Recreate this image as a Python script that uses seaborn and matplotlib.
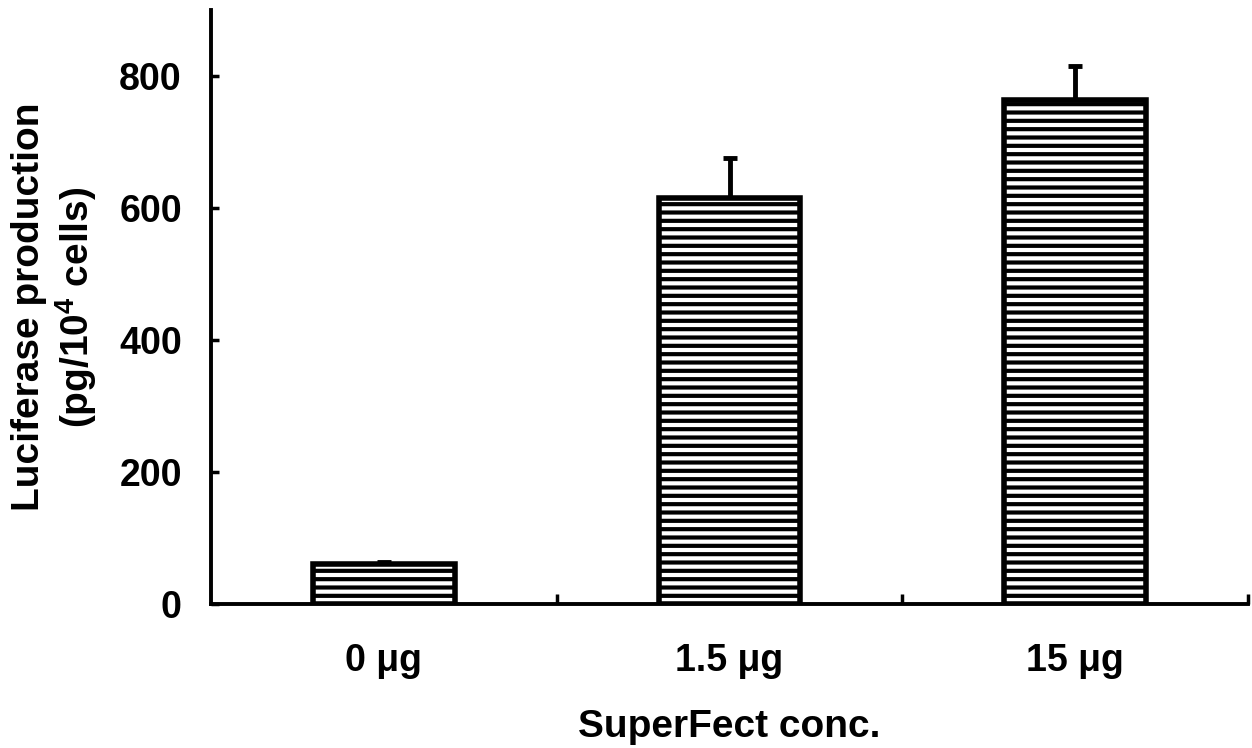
import matplotlib
matplotlib.use("Agg")
import matplotlib.pyplot as plt
import seaborn as sns
import pandas as pd
from matplotlib.ticker import FixedLocator

categories = ["0 \u03bcg", "1.5 \u03bcg", "15 \u03bcg"]
values = [61, 615, 764]
errors = [3, 61, 51]
yticks = [0, 200, 400, 600, 800]

sns.set_theme(style="white")
plt.rcParams['font.family'] = ['Liberation Sans', 'DejaVu Sans']
plt.rcParams['font.weight'] = 'bold'
plt.rcParams['text.color'] = 'black'
plt.rcParams['axes.labelcolor'] = 'black'
plt.rcParams['xtick.color'] = 'black'
plt.rcParams['ytick.color'] = 'black'
plt.rcParams['mathtext.fontset'] = 'custom'
plt.rcParams['mathtext.bf'] = 'Liberation Sans:bold'
plt.rcParams['mathtext.rm'] = 'Liberation Sans:bold'
plt.rcParams['hatch.linewidth'] = 3.0
plt.rcParams['hatch.color'] = 'black'

df = pd.DataFrame({"conc": categories, "lum": values})

fig = plt.figure(figsize=(12.52, 7.48), dpi=100)
L, R, B, T = 211, 1248, 604, 10
ax = fig.add_axes([L/1252, 1 - B/748, (R-L)/1252, (B-T)/748])

sns.barplot(data=df, x="conc", y="lum", ax=ax, color="white", edgecolor="black",
            linewidth=4, width=0.41, errorbar=None, saturation=1)
for p in ax.patches:
    p.set_hatch("--")
    p.set_edgecolor("black")
    p.set_zorder(2)

xpos = list(range(len(categories)))
ax.errorbar(xpos, values, yerr=[[0]*len(errors), errors], fmt="none",
            ecolor="black", elinewidth=3.5, capsize=5, capthick=3.5, zorder=1)

ax.set_xlim(-0.5, 2.5)
ax.set_ylim(0, 900)
ax.set_yticks(yticks)
ax.xaxis.set_minor_locator(FixedLocator([0.5, 1.5, 2.5]))
ax.tick_params(axis='x', which='major', length=0, pad=28, labelsize=27)
ax.tick_params(axis='x', which='minor', direction='in', length=7, width=2.5, color='black', bottom=True)
ax.tick_params(axis='y', which='major', direction='in', length=6, width=2.5, color='black', pad=21, labelsize=27, left=True)

for s in ["top", "right"]:
    ax.spines[s].set_visible(False)
for s in ["left", "bottom"]:
    ax.spines[s].set_color("black")
    ax.spines[s].set_linewidth(2.8)

ax.set_xlabel("SuperFect conc.", fontsize=28, fontweight='bold', va='baseline')
ax.xaxis.set_label_coords(0.5, (B - 737) / (B - T))
ax.set_ylabel("Luciferase production\n(pg/10$^{\\mathbf{4}}$ cells)", fontsize=28,
              fontweight='bold', linespacing=1.15, va='center', ha='center')
ax.yaxis.set_label_coords((55 - L) / (R - L), 0.5)

fig.savefig("out.png", dpi=100)
